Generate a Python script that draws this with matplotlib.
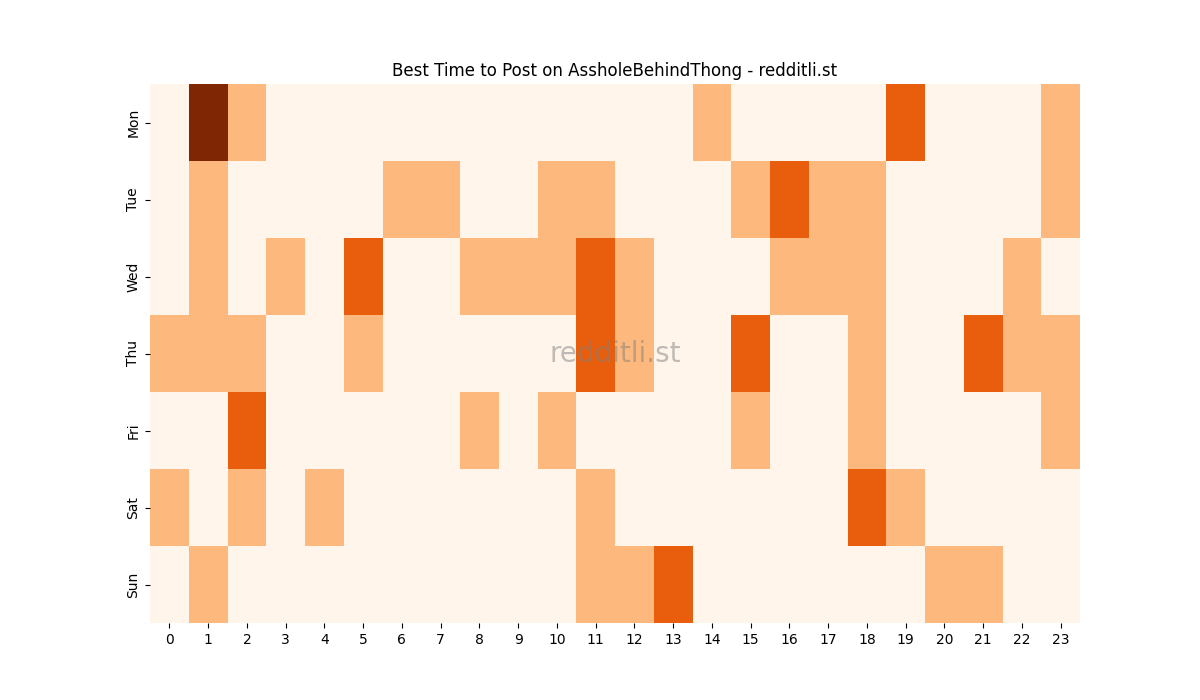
"""Weekly posting-activity heatmap (day x hour)."""
import matplotlib
matplotlib.use("Agg")
import matplotlib.pyplot as plt
import numpy as np
import seaborn as sns

days = ["Mon", "Tue", "Wed", "Thu", "Fri", "Sat", "Sun"]
hours = list(range(24))

# activity level per hour, one row per day
mon = [0, 3, 1, 0, 0, 0, 0, 0, 0, 0, 0, 0, 0, 0, 1, 0, 0, 0, 0, 2, 0, 0, 0, 1]
tue = [0, 1, 0, 0, 0, 0, 1, 1, 0, 0, 1, 1, 0, 0, 0, 1, 2, 1, 1, 0, 0, 0, 0, 1]
wed = [0, 1, 0, 1, 0, 2, 0, 0, 1, 1, 1, 2, 1, 0, 0, 0, 1, 1, 1, 0, 0, 0, 1, 0]
thu = [1, 1, 1, 0, 0, 1, 0, 0, 0, 0, 0, 2, 1, 0, 0, 2, 0, 0, 1, 0, 0, 2, 1, 1]
fri = [0, 0, 2, 0, 0, 0, 0, 0, 1, 0, 1, 0, 0, 0, 0, 1, 0, 0, 1, 0, 0, 0, 0, 1]
sat = [1, 0, 1, 0, 1, 0, 0, 0, 0, 0, 0, 1, 0, 0, 0, 0, 0, 0, 2, 1, 0, 0, 0, 0]
sun = [0, 1, 0, 0, 0, 0, 0, 0, 0, 0, 0, 1, 1, 2, 0, 0, 0, 0, 0, 0, 1, 1, 0, 0]

grid = np.array([mon, tue, wed, thu, fri, sat, sun])

fig, ax = plt.subplots(figsize=(12, 7))
sns.heatmap(grid, cmap="Oranges", cbar=False, ax=ax,
            xticklabels=hours, yticklabels=days)
ax.set_title("Best Time to Post on AssholeBehindThong - redditli.st")
plt.setp(ax.get_yticklabels(), rotation=90, va="center")
plt.setp(ax.get_xticklabels(), rotation=0)
ax.text(0.5, 0.5, "redditli.st", transform=ax.transAxes, ha="center",
        va="center", fontsize=20, color="gray", alpha=0.5)
fig.savefig("out.png", dpi=100)
